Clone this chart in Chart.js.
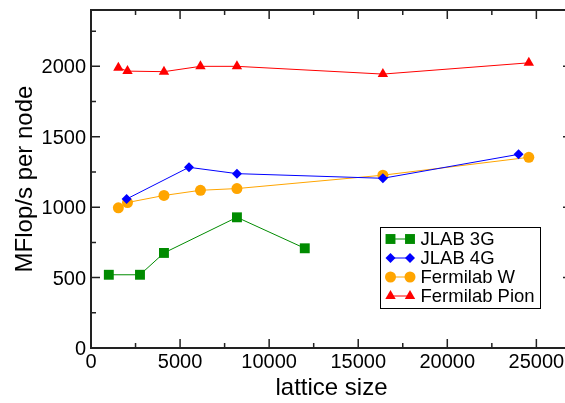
<!DOCTYPE html>
<html lang="en">
<head>
    <meta charset="UTF-8">
    <title>MFlop/s per node vs lattice size</title>
    <script src="https://cdn.jsdelivr.net/npm/chart.js"></script>
    <style>
        html, body { margin: 0; padding: 0; background: white; overflow: hidden; }
        #clip { width: 565px; height: 403px; overflow: hidden; position: relative; }
        #perfChart { display: block; position: absolute; left: 0; top: 0; }
    </style>
</head>
<body>
    <div id="clip"><canvas id="perfChart" width="579" height="403"></canvas></div>

    <script>
        // benchmark results: lattice size vs sustained MFlop/s per node
        const jlab3gX = [1000, 2750, 4096, 8192, 12000];
        const jlab3gY = [520, 520, 675, 928, 708];

        const jlab4gX = [2000, 5500, 8192, 16384, 24000];
        const jlab4gY = [1058, 1283, 1238, 1205, 1375];

        const fnalWX = [1536, 2048, 4096, 6144, 8192, 16384, 24576];
        const fnalWY = [995, 1033, 1083, 1120, 1132, 1227, 1354];

        const fnalPionX = [1536, 2048, 4096, 6144, 8192, 16384, 24576];
        const fnalPionY = [1990, 1966, 1962, 2000, 2000, 1945, 2025];

        const xTicks = [0, 5000, 10000, 15000, 20000, 25000];
        const yTicks = [0, 500, 1000, 1500, 2000];
        const xMinorStep = 2500;
        const yMinorStep = 250;

        const FONT = "'Liberation Sans', Arial, Helvetica, sans-serif";
        Chart.defaults.font.family = FONT;
        Chart.defaults.color = '#000';

        function pts(xs, ys) {
            return xs.map((x, i) => ({ x: x, y: ys[i] }));
        }

        function series(label, xs, ys, color, style, radius) {
            return {
                label: label,
                data: pts(xs, ys),
                borderColor: color,
                backgroundColor: color,
                borderWidth: 1,
                pointStyle: style,
                pointRadius: radius,
                pointHoverRadius: radius,
                pointBackgroundColor: color,
                pointBorderWidth: 0,
                showLine: true,
                tension: 0
            };
        }

        // xmgrace-style frame: box with inward major/minor ticks on all sides
        const framePlugin = {
            id: 'frame',
            afterDatasetsDraw(chart) {
                const ctx = chart.ctx;
                const a = chart.chartArea;
                const xs = chart.scales.x, ys = chart.scales.y;
                ctx.save();
                ctx.strokeStyle = '#222';
                ctx.lineWidth = 1.5;
                ctx.beginPath();
                for (let v = 0; v <= xs.max; v += xMinorStep) {
                    const px = xs.getPixelForValue(v);
                    const len = (v % 5000 === 0) ? 9 : 5;
                    ctx.moveTo(px, a.bottom); ctx.lineTo(px, a.bottom - len);
                    ctx.moveTo(px, a.top); ctx.lineTo(px, a.top + len);
                }
                for (let v = 0; v <= ys.max; v += yMinorStep) {
                    const py = ys.getPixelForValue(v);
                    const len = (v % 500 === 0) ? 9 : 5;
                    ctx.moveTo(a.left, py); ctx.lineTo(a.left + len, py);
                    ctx.moveTo(a.right, py); ctx.lineTo(a.right - len, py);
                }
                ctx.stroke();
                ctx.lineWidth = 2;
                ctx.strokeRect(a.left, a.top, a.right - a.left, a.bottom - a.top);
                ctx.restore();
            }
        };

        // boxed legend with a line and two markers per entry
        const boxLegend = {
            id: 'boxLegend',
            afterDraw(chart) {
                const ctx = chart.ctx;
                const a = chart.chartArea;
                const left = a.left + 289.5, top = a.top + 217.5;
                const w = 160, h = 81, rowH = 19;
                ctx.save();
                ctx.fillStyle = '#fff';
                ctx.fillRect(left, top, w, h);
                ctx.strokeStyle = '#000';
                ctx.lineWidth = 1;
                ctx.strokeRect(left, top, w, h);
                ctx.font = '18.5px ' + FONT;
                ctx.textBaseline = 'middle';
                ctx.textAlign = 'left';
                chart.data.datasets.forEach((ds, i) => {
                    const y = top + 11.5 + i * rowH;
                    const x1 = left + 10, x2 = left + 29.5;
                    ctx.strokeStyle = ds.borderColor;
                    ctx.lineWidth = 1;
                    ctx.beginPath();
                    ctx.moveTo(x1, y); ctx.lineTo(x2, y);
                    ctx.stroke();
                    const opts = {
                        pointStyle: ds.pointStyle,
                        radius: ds.pointRadius,
                        rotation: 0,
                        borderWidth: 0
                    };
                    ctx.fillStyle = ds.borderColor;
                    Chart.helpers.drawPoint(ctx, opts, x1, y);
                    Chart.helpers.drawPoint(ctx, opts, x2, y);
                    ctx.fillStyle = '#000';
                    ctx.fillText(ds.label, left + 40, y + 1);
                });
                ctx.restore();
            }
        };

        new Chart(document.getElementById('perfChart'), {
            type: 'scatter',
            data: {
                datasets: [
                    series('JLAB 3G', jlab3gX, jlab3gY, 'rgb(0,139,0)', 'rect', 7),
                    series('JLAB 4G', jlab4gX, jlab4gY, 'rgb(0,0,255)', 'rectRot', 5),
                    series('Fermilab W', fnalWX, fnalWY, 'rgb(255,165,0)', 'circle', 5.5),
                    series('Fermilab Pion', fnalPionX, fnalPionY, 'rgb(255,0,0)', 'triangle', 6)
                ]
            },
            options: {
                responsive: false,
                animation: false,
                layout: { padding: { top: 10, right: 2, bottom: 0, left: 0 } },
                plugins: {
                    legend: { display: false },
                    tooltip: { enabled: false }
                },
                scales: {
                    x: {
                        type: 'linear',
                        min: 0,
                        max: 27000,
                        grid: { display: false, drawTicks: false },
                        border: { display: false },
                        afterBuildTicks: (s) => { s.ticks = xTicks.map(v => ({ value: v })); },
                        afterFit: (s) => {
                            s.height = 55;
                            s.paddingLeft = 0;
                            s.paddingRight = 0;
                        },
                        ticks: {
                            font: { size: 20 },
                            padding: 2,
                            maxRotation: 0,
                            callback: (v) => String(v)
                        },
                        title: {
                            display: true,
                            text: 'lattice size',
                            font: { size: 24 },
                            padding: { top: 0, bottom: 0 }
                        }
                    },
                    y: {
                        type: 'linear',
                        min: 0,
                        max: 2400,
                        grid: { display: false, drawTicks: false },
                        border: { display: false },
                        afterBuildTicks: (s) => { s.ticks = yTicks.map(v => ({ value: v })); },
                        afterFit: (s) => {
                            s.width = 91;
                            s.paddingTop = 0;
                            s.paddingBottom = 0;
                        },
                        ticks: {
                            font: { size: 20 },
                            padding: 5,
                            labelOffset: 1.5,
                            callback: (v) => String(v)
                        },
                        title: {
                            display: true,
                            text: 'MFlop/s per node',
                            font: { size: 24 },
                            padding: { top: 11, bottom: 0 }
                        }
                    }
                }
            },
            plugins: [framePlugin, boxLegend]
        });
    </script>
</body>
</html>
